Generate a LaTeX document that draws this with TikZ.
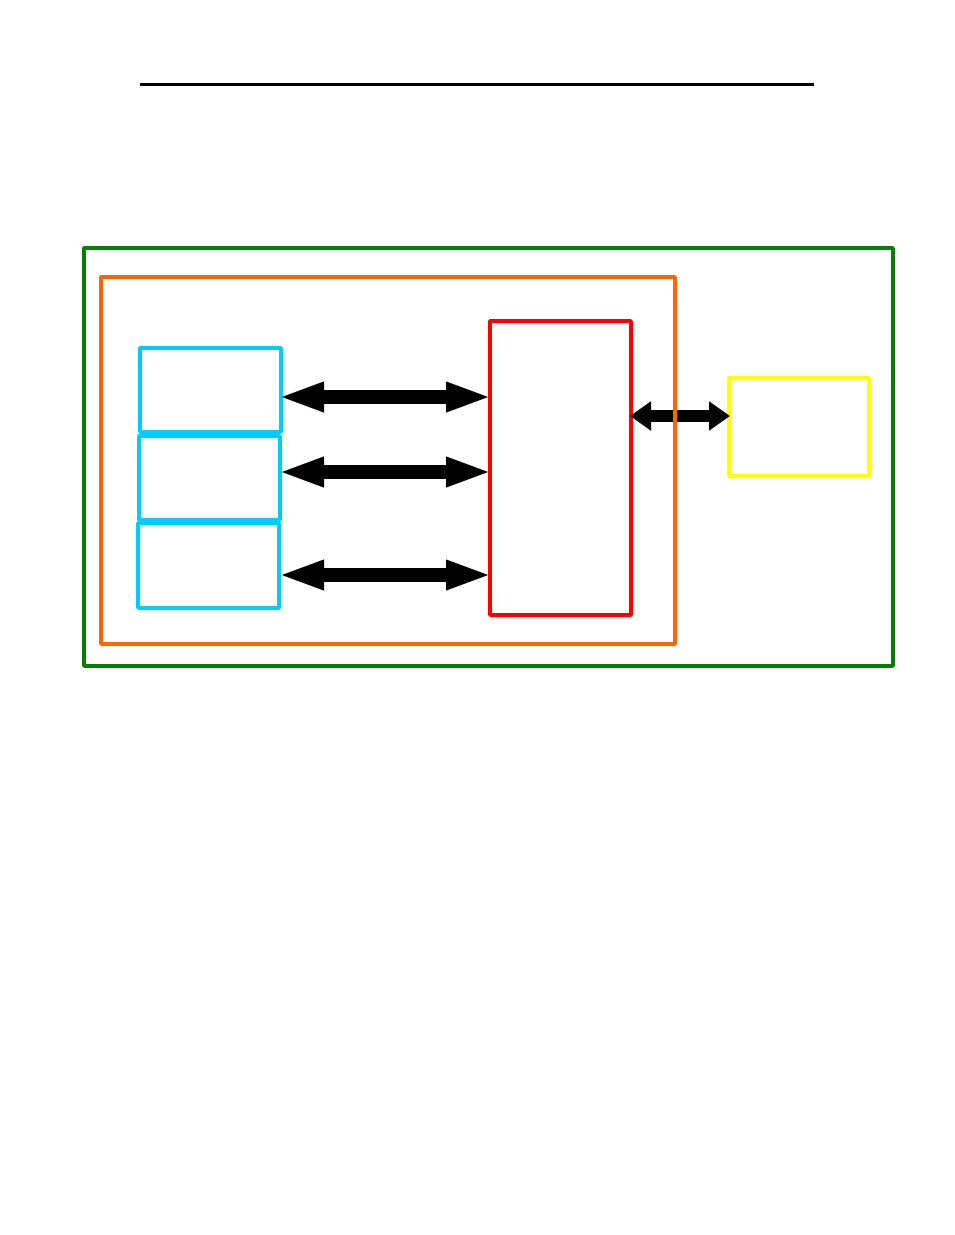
\documentclass[tikz,border=0pt]{standalone}
\usetikzlibrary{arrows.meta}
\definecolor{cgreen}{HTML}{008000}
\definecolor{corange}{HTML}{FF6600}
\definecolor{cblue}{HTML}{00CCFF}
\definecolor{cred}{HTML}{FF0000}
\definecolor{cyellow}{HTML}{FFFF00}
\tikzset{
  box/.style={draw, line width=3.6pt, line join=round, inner sep=0pt, outer sep=0pt, anchor=north west},
  bigarrow/.style={line width=14pt, {Triangle[length=46pt,width=27pt]}-{Triangle[length=46pt,width=27pt]}, shorten <=-3pt, shorten >=-2pt},
  smallarrow/.style={line width=12.5pt, {Triangle[length=21pt,width=28pt]}-{Triangle[length=21pt,width=28pt]}, shorten <=-1pt, shorten >=-1pt}
}
\begin{document}
\begin{tikzpicture}[x=1pt,y=-1pt]
\useasboundingbox (0,0) rectangle (954,1235);
\coordinate (tl) at (140,84);
\coordinate (tr) at (814,84);
\draw[line width=3pt] (tl) -- (tr);
\node[box, cgreen, minimum width=809pt, minimum height=418pt] (green) at (84,248) {};
\node[box, cblue, minimum width=141pt, minimum height=84pt] (b1) at (140,348) {};
\node[box, cblue, minimum width=141pt, minimum height=84pt] (b2) at (139,436) {};
\node[box, cblue, minimum width=141pt, minimum height=85pt] (b3) at (138,523) {};
\node[box, cred, minimum width=141pt, minimum height=294pt] (red) at (490,321) {};
\node[box, cyellow, minimum width=140pt, minimum height=98pt] (yellow) at (729,378) {};
\coordinate (a1) at (281,397);
\coordinate (a2) at (281,472);
\coordinate (a3) at (281,575);
\draw[bigarrow] (a1) -- (red.west |- a1);
\draw[bigarrow] (a2) -- (red.west |- a2);
\draw[bigarrow] (a3) -- (red.west |- a3);
\coordinate (r1) at (631,416);
\draw[smallarrow] (r1) -- (yellow.west |- r1);
\node[box, corange, minimum width=574pt, minimum height=367pt] (orange) at (101,277) {};
\end{tikzpicture}
\end{document}
